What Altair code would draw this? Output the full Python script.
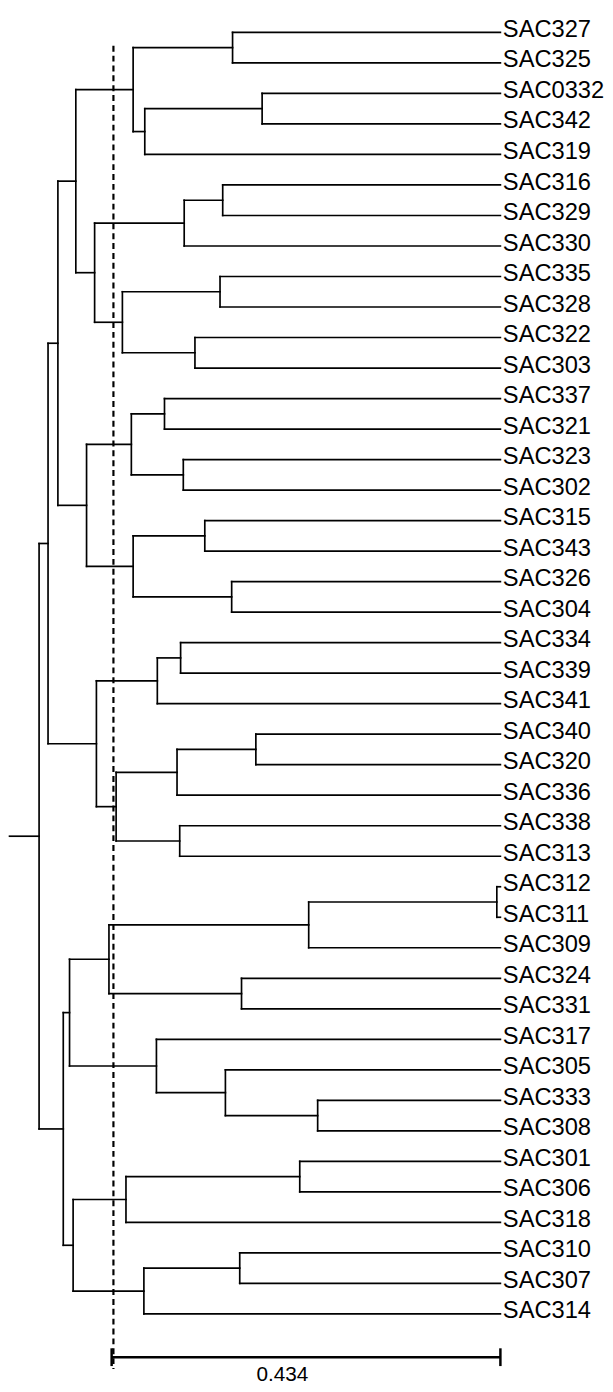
import altair as alt
import pandas as pd

# ---- data ----
leaf_names = [
    "SAC327", "SAC325", "SAC0332", "SAC342", "SAC319", "SAC316", "SAC329",
    "SAC330", "SAC335", "SAC328", "SAC322", "SAC303", "SAC337", "SAC321",
    "SAC323", "SAC302", "SAC315", "SAC343", "SAC326", "SAC304", "SAC334",
    "SAC339", "SAC341", "SAC340", "SAC320", "SAC336", "SAC338", "SAC313",
    "SAC312", "SAC311", "SAC309", "SAC324", "SAC331", "SAC317", "SAC305",
    "SAC333", "SAC308", "SAC301", "SAC306", "SAC318", "SAC310", "SAC307",
    "SAC314",
]

node_names = ["A", "B", "C", "D", "E", "F", "G", "H", "I", "J", "K",
              "N", "O", "P", "Q", "R", "S", "M", "L",
              "V1", "V", "W1", "W2", "W3", "W", "U", "T",
              "Y1", "Y2", "Y3", "Y", "Z1", "Z2", "Z3", "Z",
              "AA1", "AA", "BB1", "BB", "CC", "X", "ROOT"]
left_child = ["SAC327", "SAC0332", "B", "A", "SAC316", "E", "SAC335", "SAC322", "G", "F", "D",
              "SAC337", "SAC323", "N", "SAC315", "SAC326", "Q", "P", "K",
              "SAC334", "V1", "SAC340", "W1", "SAC338", "W2", "V", "L",
              "SAC312", "Y1", "SAC324", "Y2", "SAC333", "SAC305", "SAC317", "Y",
              "SAC301", "AA1", "SAC310", "BB1", "AA", "Z", "T"]
right_child = ["SAC325", "SAC342", "SAC319", "C", "SAC329", "SAC330", "SAC328", "SAC303", "H", "I", "J",
               "SAC321", "SAC302", "O", "SAC343", "SAC304", "R", "S", "M",
               "SAC339", "SAC341", "SAC320", "SAC336", "SAC313", "W3", "W", "U",
               "SAC311", "SAC309", "SAC331", "Y3", "SAC308", "Z1", "Z2", "Z3",
               "SAC306", "SAC318", "SAC307", "SAC314", "BB", "CC", "X"]
node_height = [0.299, 0.266, 0.397, 0.410, 0.310, 0.353, 0.313, 0.341, 0.422, 0.453, 0.474,
               0.375, 0.354, 0.412, 0.330, 0.300, 0.410, 0.462, 0.494,
               0.357, 0.383, 0.273, 0.361, 0.358, 0.429, 0.451, 0.505,
               0.004, 0.214, 0.289, 0.437, 0.204, 0.307, 0.384, 0.481,
               0.224, 0.418, 0.291, 0.398, 0.477, 0.488, 0.515]
root_stub_height = 0.548
cutoff_height = 0.432
scale_bar_value = 0.434
scale_bar_label = "0.434"

# ---- build tree segments ----
pos_y = {n: float(i) for i, n in enumerate(leaf_names)}
pos_h = {n: 0.0 for n in leaf_names}
for n, l, r, h in zip(node_names, left_child, right_child, node_height):
    pos_y[n] = (pos_y[l] + pos_y[r]) / 2
    pos_h[n] = h

segs = []
for n, l, r, h in zip(node_names, left_child, right_child, node_height):
    segs.append(dict(x=h, x2=h, y=pos_y[l], y2=pos_y[r]))
    for c in (l, r):
        segs.append(dict(x=pos_h[c], x2=h, y=pos_y[c], y2=pos_y[c]))
root = node_names[-1]
segs.append(dict(x=pos_h[root], x2=root_stub_height, y=pos_y[root], y2=pos_y[root]))
seg_df = pd.DataFrame(segs)

leaf_df = pd.DataFrame({"name": leaf_names, "h": [0.0] * len(leaf_names),
                        "y": list(range(len(leaf_names)))})

xs = alt.Scale(domain=[0, 0.5497], reverse=True, nice=False, zero=False)
ys = alt.Scale(domain=[-0.5, 44], reverse=True, nice=False, zero=False)
FONT = "Liberation Sans"

tree = alt.Chart(seg_df).mark_rule(color="black", strokeWidth=1.7, strokeCap="square").encode(
    x=alt.X("x:Q", scale=xs, axis=None),
    x2="x2:Q",
    y=alt.Y("y:Q", scale=ys, axis=None),
    y2="y2:Q",
)

labels = alt.Chart(leaf_df).mark_text(
    align="left", baseline="alphabetic", dx=2.5, dy=4.6, fontSize=24, font=FONT, color="black"
).encode(
    x=alt.X("h:Q", scale=xs, axis=None),
    y=alt.Y("y:Q", scale=ys, axis=None),
    text="name:N",
)

cut_df = pd.DataFrame({"h": [cutoff_height]})
cutoff = alt.Chart(cut_df).mark_rule(color="black", strokeWidth=2.2, strokeDash=[6, 4]).encode(
    x=alt.X("h:Q", scale=xs, axis=None),
    y=alt.value(29),
    y2=alt.value(1370),
)

bar_df = pd.DataFrame({"a": [scale_bar_value], "b": [0.0], "mid": [scale_bar_value / 2],
                       "label": [scale_bar_label]})
bar = alt.Chart(bar_df).mark_rule(color="black", strokeWidth=2.5).encode(
    x=alt.X("a:Q", scale=xs, axis=None),
    x2="b:Q",
    y=alt.value(1358),
)
ticks_df = pd.DataFrame({"t": [scale_bar_value, 0.0]})
ticks = alt.Chart(ticks_df).mark_rule(color="black", strokeWidth=2.5).encode(
    x=alt.X("t:Q", scale=xs, axis=None),
    y=alt.value(1349),
    y2=alt.value(1367),
)
bar_text = alt.Chart(bar_df).mark_text(
    baseline="alphabetic", align="center", dx=-24, fontSize=21, font=FONT, color="black"
).encode(
    x=alt.X("mid:Q", scale=xs, axis=None),
    y=alt.value(1382),
    text="label:N",
)

chart = alt.layer(tree, cutoff, bar, ticks, bar_text, labels).properties(
    width=499,
    height=1376,
    autosize=alt.AutoSizeParams(type="none"),
    padding={"left": 0, "top": 0, "right": 106, "bottom": 7},
    background="white",
).configure_view(stroke=None)

chart.save("out.html", embed_options={"renderer": "svg", "actions": False})
